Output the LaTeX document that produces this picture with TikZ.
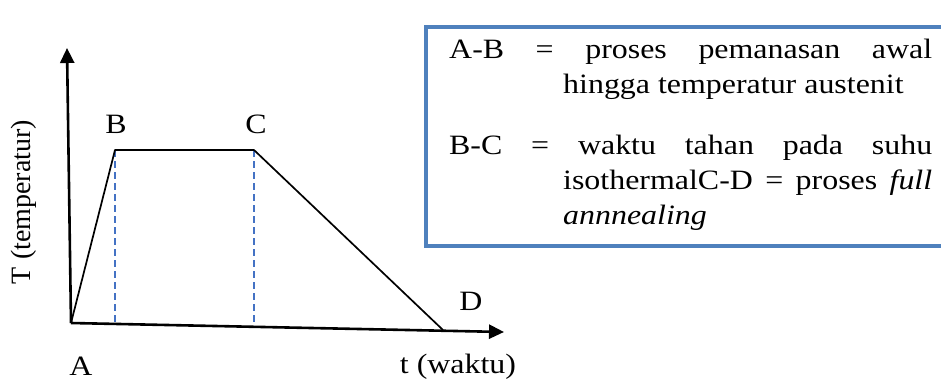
\documentclass[tikz,border=0pt]{standalone}
\usepackage{fontspec}
\setmainfont[FakeStretch=1.14]{Liberation Serif}
\newfontfamily\plainserif{Liberation Serif}
\usetikzlibrary{arrows.meta, positioning}
\definecolor{boxblue}{RGB}{79,129,189}
\definecolor{guideblue}{RGB}{68,114,196}

\begin{document}
\begin{tikzpicture}[x=1pt, y=-1pt,
  font=\fontsize{28}{35}\selectfont,
  axis/.style={line width=2.6pt, -{Triangle[length=15pt,width=14pt]}},
  curve/.style={line width=1.7pt, line join=round},
  guide/.style={guideblue, line width=1.4pt, dash pattern=on 7pt off 4pt},
  lbl/.style={inner sep=0pt},
  entry/.style={inner sep=0pt, anchor=north west, text width=483pt, align=justify}]
\useasboundingbox (0,0) rectangle (941,381);

% ---- axes and heating curve ----
\coordinate (a) at (71,323);
\coordinate (b) at (115,150);
\coordinate (c) at (254,150);
\coordinate (d) at (443,330);
\coordinate (ytip) at (67,48);
\coordinate (xtip) at (504,332);
\coordinate (bfoot) at (115,324);
\coordinate (cfoot) at (254,327);

\draw[guide] (b) -- (bfoot);
\draw[guide] (c) -- (cfoot);
\draw[axis] (a) -- (ytip);
\draw[axis] (a) -- (xtip);
\draw[curve] (a) -- (b) -- (c) -- (d);

\node[lbl] (labA) at (81,366) {A};
\node[lbl] (labB) at (116,124) {B};
\node[lbl] (labC) at (256,124) {C};
\node[lbl] (labD) at (471,301) {D};
\node[lbl] (xlab) at (458,367) {t (waktu)};
\node[lbl, rotate=90, font=\plainserif\fontsize{28}{35}\selectfont] (ylab) at (24,202) {T (temperatur)};

% ---- legend box ----
\draw[boxblue, line width=4.5pt] (426,27) rectangle (960,246);
\node[entry] (entryab) at (449,39)
  {A-B = proses pemanasan awal\hangindent=114pt\hangafter=1\linebreak
   hingga temperatur austenit\par};
\node[entry] (entrybc) at (449,135)
  {B-C = waktu tahan pada suhu\hangindent=114pt\hangafter=1\linebreak
   isothermalC-D = proses \textit{full}\linebreak
   \textit{annnealing}\par};
\end{tikzpicture}
\end{document}
